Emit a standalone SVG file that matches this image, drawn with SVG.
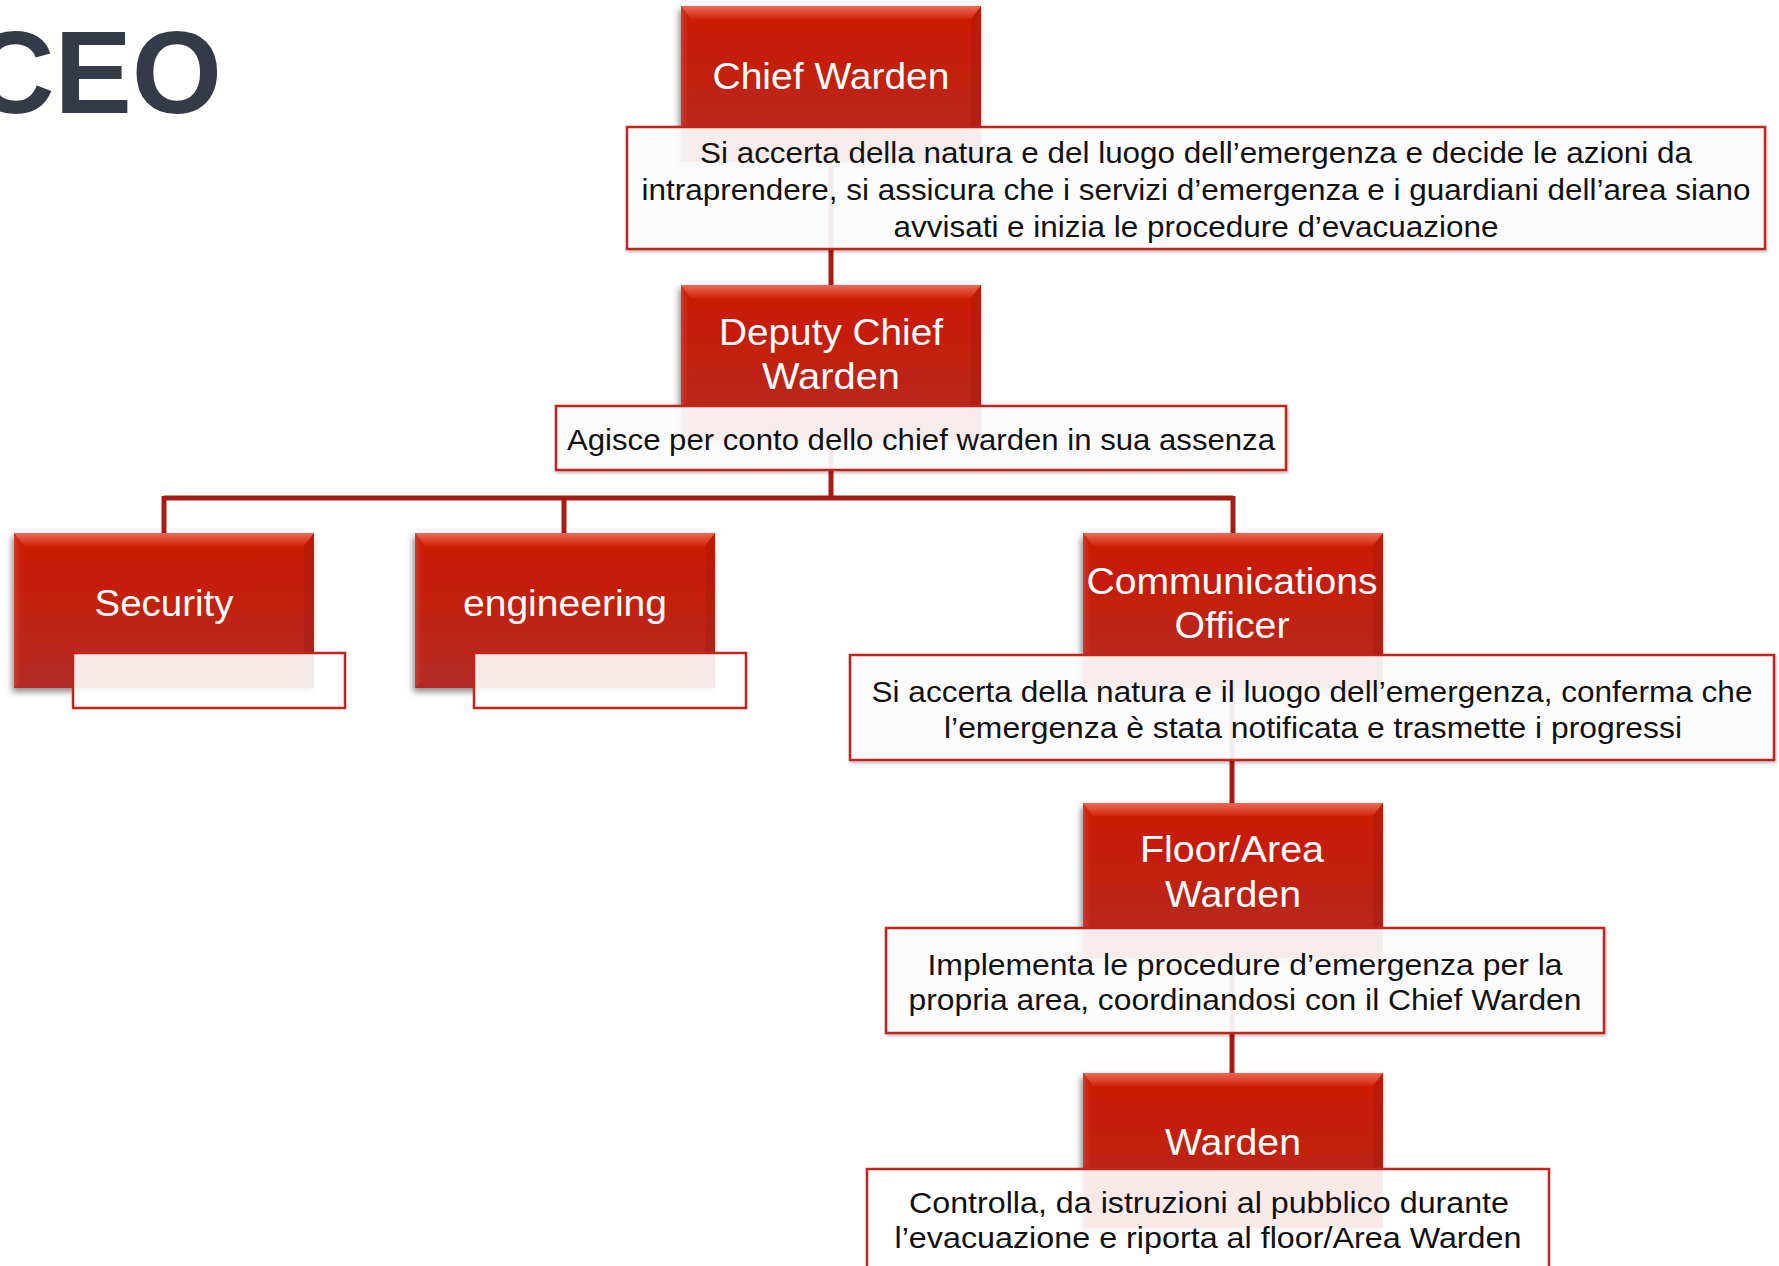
<svg xmlns="http://www.w3.org/2000/svg" width="1779" height="1266" viewBox="0 0 1779 1266">
<defs>
<linearGradient id="rg" x1="0" y1="0" x2="0" y2="1">
<stop offset="0" stop-color="#cc1c02"/>
<stop offset="0.45" stop-color="#c3200e"/>
<stop offset="1" stop-color="#b02c27"/>
</linearGradient>
<linearGradient id="bev" x1="0" y1="0" x2="0" y2="1">
<stop offset="0" stop-color="#ee6a58"/>
<stop offset="1" stop-color="#d0250c"/>
</linearGradient>
<linearGradient id="lside" x1="0" y1="0" x2="1" y2="0">
<stop offset="0" stop-color="#d84a3c" stop-opacity="0.7"/>
<stop offset="1" stop-color="#c3200e" stop-opacity="0"/>
</linearGradient>
<filter id="sh" x="-10%" y="-10%" width="125%" height="130%">
<feDropShadow dx="-2" dy="4" stdDeviation="3" flood-color="#000" flood-opacity="0.45"/>
</filter>
<filter id="dsh" x="-5%" y="-10%" width="110%" height="130%">
<feDropShadow dx="1" dy="2" stdDeviation="1.5" flood-color="#000" flood-opacity="0.25"/>
</filter>
<g id="redbox">
<rect x="0" y="0" width="300" height="155" fill="url(#rg)" filter="url(#sh)"/>
<polygon points="0,0 300,0 290,13 10,13" fill="url(#bev)"/>
<polygon points="0,0 10,13 10,145 0,155" fill="url(#lside)"/>
<polygon points="300,0 290,13 290,145 300,155" fill="#9e1a10" opacity="0.35"/>
</g>
</defs>
<style>
.conn{stroke:#a81b12;stroke-width:5;fill:none}
.desc{fill:#ffffff;fill-opacity:0.9;stroke:#c4221a;stroke-width:2.5}
.title{font-family:"Liberation Sans",Arial,sans-serif;font-size:37px;fill:#ffffff;text-anchor:middle}
.dtxt{font-family:"Liberation Sans",Arial,sans-serif;font-size:29px;fill:#111111;text-anchor:middle}
</style>
<rect x="0" y="0" width="1779" height="1266" fill="#ffffff"/>
<text x="222" y="113" font-family="Liberation Sans,Arial,sans-serif" font-weight="bold" font-size="116" fill="#353a49" text-anchor="end">CEO</text>

<g id="connectors">
<path class="conn" d="M831 161 V285"/>
<path class="conn" d="M831 440 V500"/>
<path class="conn" d="M164 498 H1233"/>
<path class="conn" d="M164 496 V533 M564 496 V533 M1233 496 V533"/>
<path class="conn" d="M1232 688 V803"/>
<path class="conn" d="M1232 958 V1073"/>
</g>

<g id="chief-warden">
<use href="#redbox" x="681" y="6"/>
<text class="title" x="831" y="89" textLength="237" lengthAdjust="spacingAndGlyphs">Chief Warden</text>
<rect class="desc" x="627" y="127" width="1138" height="122" filter="url(#dsh)"/>
<text class="dtxt" x="1196" y="163" textLength="992" lengthAdjust="spacingAndGlyphs">Si accerta della natura e del luogo dell’emergenza e decide le azioni da</text>
<text class="dtxt" x="1196" y="200" textLength="1109" lengthAdjust="spacingAndGlyphs">intraprendere, si assicura che i servizi d’emergenza e i guardiani dell’area siano</text>
<text class="dtxt" x="1196" y="237" textLength="605" lengthAdjust="spacingAndGlyphs">avvisati e inizia le procedure d’evacuazione</text>
</g>

<g id="deputy-chief-warden">
<use href="#redbox" x="681" y="285"/>
<text class="title" x="831" y="345" textLength="224" lengthAdjust="spacingAndGlyphs">Deputy Chief</text>
<text class="title" x="831" y="389" textLength="138" lengthAdjust="spacingAndGlyphs">Warden</text>
<rect class="desc" x="556" y="406" width="730" height="64" filter="url(#dsh)"/>
<text class="dtxt" x="921" y="450" textLength="708" lengthAdjust="spacingAndGlyphs">Agisce per conto dello chief warden in sua assenza</text>
</g>

<g id="security">
<use href="#redbox" x="14" y="533"/>
<text class="title" x="164" y="616" textLength="139" lengthAdjust="spacingAndGlyphs">Security</text>
<rect class="desc" x="73" y="653" width="272" height="55"/>
</g>

<g id="engineering">
<use href="#redbox" x="415" y="533"/>
<text class="title" x="565" y="616" textLength="204" lengthAdjust="spacingAndGlyphs">engineering</text>
<rect class="desc" x="474" y="653" width="272" height="55"/>
</g>

<g id="communications-officer">
<use href="#redbox" x="1083" y="533"/>
<text class="title" x="1232" y="594" textLength="291" lengthAdjust="spacingAndGlyphs">Communications</text>
<text class="title" x="1232" y="638" textLength="115" lengthAdjust="spacingAndGlyphs">Officer</text>
<rect class="desc" x="850" y="655" width="924" height="105" filter="url(#dsh)"/>
<text class="dtxt" x="1312" y="702" textLength="881" lengthAdjust="spacingAndGlyphs">Si accerta della natura e il luogo dell’emergenza, conferma che</text>
<text class="dtxt" x="1313" y="738" textLength="738" lengthAdjust="spacingAndGlyphs">l’emergenza è stata notificata e trasmette i progressi</text>
</g>

<g id="floor-area-warden">
<use href="#redbox" x="1083" y="803"/>
<text class="title" x="1232" y="862" textLength="184" lengthAdjust="spacingAndGlyphs">Floor/Area</text>
<text class="title" x="1233" y="907" textLength="136" lengthAdjust="spacingAndGlyphs">Warden</text>
<rect class="desc" x="886" y="928" width="718" height="105" filter="url(#dsh)"/>
<text class="dtxt" x="1245" y="975" textLength="635" lengthAdjust="spacingAndGlyphs">Implementa le procedure d’emergenza per la</text>
<text class="dtxt" x="1245" y="1010" textLength="673" lengthAdjust="spacingAndGlyphs">propria area, coordinandosi con il Chief Warden</text>
</g>

<g id="warden">
<use href="#redbox" x="1083" y="1073"/>
<text class="title" x="1233" y="1155" textLength="136" lengthAdjust="spacingAndGlyphs">Warden</text>
<rect class="desc" x="867" y="1169" width="682" height="120"/>
<text class="dtxt" x="1209" y="1213" textLength="600" lengthAdjust="spacingAndGlyphs">Controlla, da istruzioni al pubblico durante</text>
<text class="dtxt" x="1208" y="1248" textLength="627" lengthAdjust="spacingAndGlyphs">l’evacuazione e riporta al floor/Area Warden</text>
</g>
</svg>
